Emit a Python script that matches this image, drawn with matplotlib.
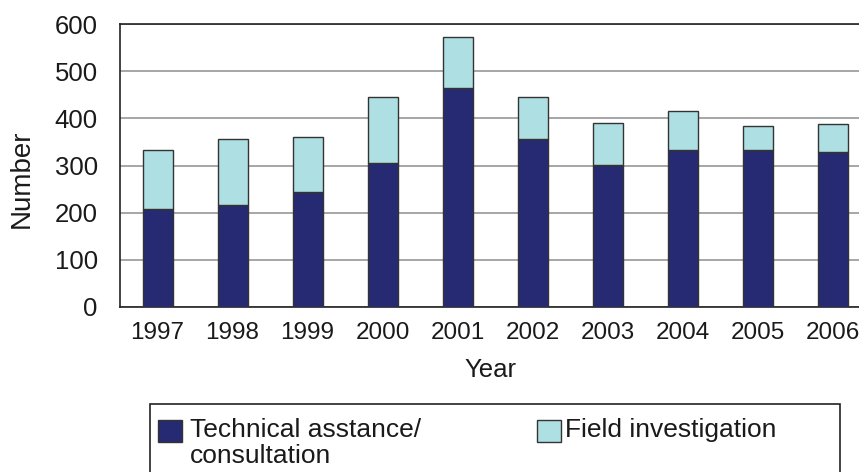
import matplotlib
matplotlib.use("Agg")
import matplotlib.pyplot as plt
from matplotlib.patches import Rectangle

# Data
years = ["1997", "1998", "1999", "2000", "2001", "2002", "2003", "2004", "2005", "2006"]
technical = [207, 216, 243, 306, 464, 356, 302, 333, 333, 328]
field = [126, 140, 117, 140, 109, 90, 89, 82, 50, 59]
series_names = ["Technical asstance/\nconsultation", "Field investigation"]
series_colors = ["#262a72", "#aedfe2"]
y_ticks = [0, 100, 200, 300, 400, 500, 600]

plt.rcParams["font.family"] = ["Liberation Sans", "DejaVu Sans"]

W, H = 859, 472
fig = plt.figure(figsize=(W / 100, H / 100), dpi=100)

# Axes spans past the right edge of the canvas
ax_left, ax_right, ax_top, ax_bottom = 120, 870, 24, 307
ax_w, ax_h = ax_right - ax_left, ax_bottom - ax_top
ax = fig.add_axes([ax_left / W, 1 - ax_bottom / H, ax_w / W, ax_h / H])

x = list(range(len(years)))
ax.bar(x, technical, width=0.4, color=series_colors[0],
       edgecolor="#333333", linewidth=1.0, zorder=3)
ax.bar(x, field, width=0.4, bottom=technical, color=series_colors[1],
       edgecolor="#333333", linewidth=1.0, zorder=3)

ax.set_xlim(-0.5, len(years) - 0.5)
ax.set_ylim(0, 600)
ax.set_yticks(y_ticks)
ax.set_xticks(x)
ax.set_xticklabels(years)
ax.yaxis.grid(True, color="#a6a6a6", linewidth=1.4, zorder=0)
ax.set_axisbelow(True)
ax.tick_params(axis="both", length=0, colors="#1a1a1a")
ax.tick_params(axis="y", pad=16, labelsize=18.5)
ax.tick_params(axis="x", pad=11, labelsize=17.5)
for s in ax.spines.values():
    s.set_color("#222222")
    s.set_linewidth(1.2)

ax.set_xlabel("Year", fontsize=18.5, color="#1a1a1a")
ax.xaxis.set_label_coords((490 - ax_left) / ax_w, -(358 - ax_bottom) / ax_h)
ax.xaxis.label.set_va("top")
ax.set_ylabel("Number", fontsize=20, color="#1a1a1a")
ax.yaxis.set_label_coords((22 - ax_left) / ax_w, (ax_bottom - 179) / ax_h)
ax.yaxis.label.set_va("center")

# Legend box drawn in figure pixels
def fx(px):
    return px / W

def fy(py):
    return 1 - py / H

frame = Rectangle((fx(149.5), fy(490)), fx(840) - fx(149.5), fy(404) - fy(490),
                  transform=fig.transFigure, facecolor="white",
                  edgecolor="#222222", linewidth=1.2)
fig.patches.append(frame)

entries = [(158, 190), (537, 565)]
for (hx, tx), name, col in zip(entries, series_names, series_colors):
    fig.patches.append(Rectangle((fx(hx), fy(442)), fx(24), 22 / H,
                                 transform=fig.transFigure, facecolor=col,
                                 edgecolor="#333333", linewidth=1.0))
    fig.text(fx(tx), fy(418), name, fontsize=19, color="#1a1a1a",
             ha="left", va="top", linespacing=1.12)

fig.savefig("out.png", dpi=100)
